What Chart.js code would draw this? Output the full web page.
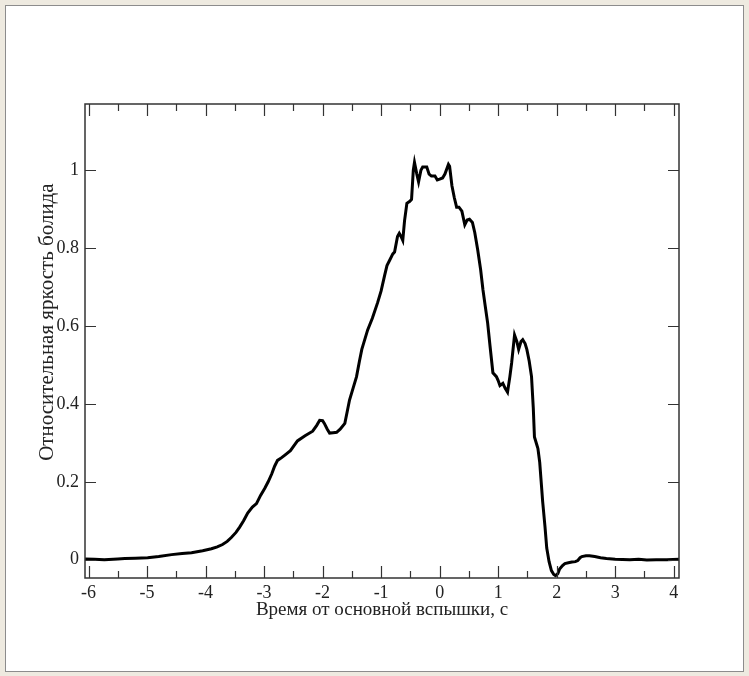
<!DOCTYPE html>
<html>
<head>
<meta charset="utf-8">
<script src="https://cdn.jsdelivr.net/npm/chart.js@4.4.1/dist/chart.umd.min.js"></script>
<style>
html, body { margin: 0; padding: 0; background: #eeeae0; }
#panel { position: absolute; left: 5px; top: 5px; width: 737px; height: 665px; background: #fff; border: 1px solid #8c8c8c; }
#wrap { position: absolute; left: 0; top: 0; width: 749px; height: 676px; }
</style>
</head>
<body>
<div id="panel"></div>
<div id="wrap"><canvas id="myChart"></canvas></div>
<script>
// time from the main flash, s
var timeSec = [-6.06, -5.9, -5.73, -5.5, -5.38, -5.2, -4.99, -4.8, -4.58, -4.4, -4.24, -4.05, -3.9, -3.8, -3.71, -3.63,
  -3.56, -3.48, -3.42, -3.35, -3.28, -3.2, -3.13, -3.06, -2.99, -2.93, -2.87, -2.82, -2.77, -2.7, -2.65, -2.55,
  -2.43, -2.3, -2.17, -2.1, -2.05, -2.0, -1.97, -1.92, -1.88, -1.82, -1.76, -1.7, -1.62, -1.58, -1.54, -1.48,
  -1.42, -1.37, -1.33, -1.28, -1.23, -1.15, -1.06, -1.0, -0.94, -0.9, -0.85, -0.8, -0.77, -0.72, -0.69, -0.66,
  -0.63, -0.6, -0.56, -0.51, -0.48, -0.45, -0.43, -0.39, -0.36, -0.32, -0.29, -0.22, -0.18, -0.14, -0.08, -0.04,
  0.0, 0.05, 0.09, 0.15, 0.17, 0.21, 0.25, 0.29, 0.33, 0.38, 0.43, 0.47, 0.51, 0.56, 0.6, 0.65,
  0.7, 0.74, 0.78, 0.82, 0.86, 0.91, 0.97, 1.0, 1.03, 1.08, 1.12, 1.16, 1.2, 1.23, 1.28, 1.32,
  1.35, 1.39, 1.42, 1.46, 1.49, 1.53, 1.57, 1.6, 1.62, 1.66, 1.68, 1.71, 1.74, 1.76, 1.8, 1.83,
  1.87, 1.91, 1.95, 1.98, 2.02, 2.05, 2.1, 2.14, 2.2, 2.26, 2.32, 2.36, 2.4, 2.43, 2.5, 2.56,
  2.65, 2.75, 2.85, 3.0, 3.25, 3.4, 3.54, 3.7, 3.88, 4.09];
// relative brightness of the bolide
var brightness = [0.002, 0.001, 0.0, 0.002, 0.003, 0.004, 0.005, 0.008, 0.013, 0.016, 0.018, 0.023, 0.028, 0.033, 0.039, 0.047,
  0.057, 0.07, 0.083, 0.1, 0.12, 0.135, 0.144, 0.165, 0.183, 0.2, 0.22, 0.24, 0.255, 0.262, 0.268, 0.28,
  0.305, 0.318, 0.33, 0.345, 0.358, 0.357, 0.35, 0.335, 0.325, 0.326, 0.327, 0.335, 0.35, 0.38, 0.41, 0.44,
  0.47, 0.51, 0.54, 0.565, 0.59, 0.62, 0.66, 0.69, 0.73, 0.755, 0.77, 0.785, 0.79, 0.83, 0.838, 0.83,
  0.82, 0.87, 0.915, 0.92, 0.925, 1.0, 1.02, 0.99, 0.97, 1.0, 1.008, 1.008, 0.99, 0.985, 0.985, 0.975,
  0.977, 0.98, 0.99, 1.015, 1.01, 0.96, 0.93, 0.905, 0.905, 0.895, 0.86, 0.872, 0.874, 0.866, 0.84, 0.796,
  0.745, 0.693, 0.65, 0.608, 0.55, 0.48, 0.47, 0.46, 0.447, 0.453, 0.44, 0.43, 0.47, 0.505, 0.577, 0.56,
  0.54, 0.56, 0.565, 0.555, 0.54, 0.51, 0.47, 0.39, 0.315, 0.295, 0.285, 0.25, 0.19, 0.15, 0.085, 0.03,
  -0.005, -0.028, -0.038, -0.041, -0.036, -0.024, -0.015, -0.01, -0.008, -0.006, -0.005, -0.002, 0.005, 0.008, 0.01, 0.01,
  0.008, 0.005, 0.003, 0.001, 0.0, 0.001, -0.001, 0.0, 0.0, 0.001];

var xTicks = [-6, -5, -4, -3, -2, -1, 0, 1, 2, 3, 4];
var xMinorTicks = [-5.5, -4.5, -3.5, -2.5, -1.5, -0.5, 0.5, 1.5, 2.5, 3.5];
var yTicks = [0, 0.2, 0.4, 0.6, 0.8, 1];

var xTitle = 'Время от основной вспышки, с';
var yTitle = 'Относительная яркость болида';

var points = [];
for (var i = 0; i < timeSec.length; i++) {
  points.push({x: timeSec[i], y: brightness[i]});
}

// frame + inward tick marks (like the original plot), y title a bit above centre
var frameTicks = {
  id: 'frameTicks',
  afterDraw: function(chart) {
    var ctx = chart.ctx;
    var a = chart.chartArea;
    var xs = chart.scales.x, ys = chart.scales.y;
    ctx.save();
    ctx.strokeStyle = '#333';
    ctx.lineWidth = 1.2;
    ctx.beginPath();
    xTicks.forEach(function(v) {
      var px = Math.round(xs.getPixelForValue(v)) + 0.5;
      ctx.moveTo(px, a.bottom); ctx.lineTo(px, a.bottom - 12);
      ctx.moveTo(px, a.top); ctx.lineTo(px, a.top + 12);
    });
    xMinorTicks.forEach(function(v) {
      var px = Math.round(xs.getPixelForValue(v)) + 0.5;
      ctx.moveTo(px, a.bottom); ctx.lineTo(px, a.bottom - 7);
      ctx.moveTo(px, a.top); ctx.lineTo(px, a.top + 7);
    });
    yTicks.forEach(function(v) {
      var py = Math.round(ys.getPixelForValue(v)) + 0.5;
      ctx.moveTo(a.left, py); ctx.lineTo(a.left + 11, py);
      ctx.moveTo(a.right, py); ctx.lineTo(a.right - 11, py);
    });
    ctx.stroke();
    ctx.lineWidth = 1.5;
    ctx.strokeRect(a.left, a.top, a.right - a.left, a.bottom - a.top);

    ctx.translate(47, ys.getPixelForValue(0.61));
    ctx.rotate(-Math.PI / 2);
    ctx.fillStyle = '#222';
    ctx.font = '21px "Liberation Serif"';
    ctx.textAlign = 'center';
    ctx.textBaseline = 'middle';
    ctx.fillText(yTitle, 0, 0);
    ctx.restore();
  }
};

var ctx = document.getElementById('myChart').getContext('2d');
var myChart = new Chart(ctx, {
  type: 'line',
  data: {
    datasets: [{
      data: points,
      borderColor: '#000',
      borderWidth: 3,
      pointRadius: 0,
      tension: 0,
      fill: false
    }]
  },
  options: {
    responsive: true,
    maintainAspectRatio: false,
    animation: false,
    layout: { padding: { left: 0, right: 70, top: 104, bottom: 38 } },
    plugins: { legend: { display: false }, tooltip: { enabled: false } },
    scales: {
      x: {
        type: 'linear',
        min: -6.06,
        max: 4.09,
        afterBuildTicks: function(s) { s.ticks = xTicks.map(function(v) { return {value: v}; }); },
        afterFit: function(s) { s.height = 60; },
        grid: { display: false, drawTicks: false },
        border: { display: false },
        ticks: {
          padding: 4,
          color: '#222',
          font: { family: 'Liberation Serif', size: 18 },
          maxRotation: 0,
          callback: function(v) { return String(v); }
        },
        title: {
          display: true,
          text: xTitle,
          color: '#222',
          font: { family: 'Liberation Serif', size: 19 },
          padding: { top: 0, bottom: 17 }
        }
      },
      y: {
        type: 'linear',
        min: -0.047,
        max: 1.17,
        afterBuildTicks: function(s) { s.ticks = yTicks.map(function(v) { return {value: v}; }); },
        afterFit: function(s) { s.width = 85; },
        grid: { display: false, drawTicks: false },
        border: { display: false },
        ticks: {
          padding: 6,
          color: '#222',
          font: { family: 'Liberation Serif', size: 18 },
          callback: function(v) { return String(v); }
        },
        title: { display: false }
      }
    }
  },
  plugins: [frameTicks]
});
</script>
</body>
</html>
